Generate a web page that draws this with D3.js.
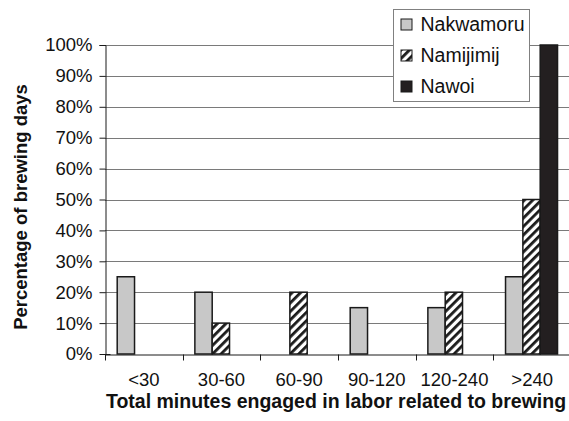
<!DOCTYPE html>
<html>
<head>
<meta charset="utf-8">
<script src="https://cdn.jsdelivr.net/npm/d3@7"></script>
<style>
  body { margin: 0; background: #fff; }
  svg { display: block; font-family: "Liberation Sans", Arial, sans-serif; }
</style>
</head>
<body>
<div id="chart"></div>
<script>
// data
const categories = ["<30", "30-60", "60-90", "90-120", "120-240", ">240"];
const seriesNames = ["Nakwamoru", "Namijimij", "Nawoi"];
const nakwamoru = [0.25, 0.20, 0, 0.15, 0.15, 0.25];
const namijimij = [0, 0.10, 0.20, 0, 0.20, 0.50];
const nawoi = [0, 0, 0, 0, 0, 1.00];
const yTicks = [0, 0.1, 0.2, 0.3, 0.4, 0.5, 0.6, 0.7, 0.8, 0.9, 1.0];

const width = 569, height = 421;
const margin = { top: 45, right: -2, bottom: 67, left: 105 };

const rows = categories.map((c, i) => ({
  cat: c,
  values: [nakwamoru[i], namijimij[i], nawoi[i]]
}));

const svg = d3.select("#chart").append("svg")
  .attr("width", width)
  .attr("height", height);

// hatch pattern for Namijimij
const defs = svg.append("defs");
const pat = defs.append("pattern")
  .attr("id", "hatch")
  .attr("patternUnits", "userSpaceOnUse")
  .attr("width", 6).attr("height", 6)
  .attr("patternTransform", "rotate(45)");
pat.append("rect").attr("width", 6).attr("height", 6).attr("fill", "#fff");
pat.append("rect").attr("width", 2.8).attr("height", 6).attr("fill", "#1a1a1a");

const fills = { Nakwamoru: "#c8c8c8", Namijimij: "url(#hatch)", Nawoi: "#231f20" };

const x = d3.scaleBand()
  .domain(categories)
  .range([margin.left, width - margin.right])
  .padding(0);

const xInner = d3.scaleBand()
  .domain(seriesNames)
  .range([12.2, 64.2]);

const y = d3.scaleLinear()
  .domain([0, 1])
  .range([height - margin.bottom, margin.top]);

// gridlines
svg.append("g")
  .selectAll("line")
  .data(yTicks.slice(1))
  .join("line")
  .attr("x1", margin.left)
  .attr("x2", width)
  .attr("y1", d => Math.round(y(d)) + 0.5)
  .attr("y2", d => Math.round(y(d)) + 0.5)
  .attr("stroke", "#7a7a7a")
  .attr("stroke-width", 1);

// bars
const groups = svg.append("g")
  .selectAll("g")
  .data(rows)
  .join("g")
  .attr("transform", d => `translate(${x(d.cat)},0)`);

groups.selectAll("rect")
  .data(d => d.values.map((v, j) => ({ name: seriesNames[j], v })).filter(e => e.v > 0))
  .join("rect")
  .attr("x", d => xInner(d.name))
  .attr("width", xInner.bandwidth())
  .attr("y", d => y(d.v))
  .attr("height", d => y(0) - y(d.v))
  .attr("fill", d => fills[d.name])
  .attr("stroke", "#1a1a1a")
  .attr("stroke-width", 1.5);

// y axis
const yAxis = svg.append("g")
  .attr("transform", `translate(${margin.left + 0.5},0)`)
  .call(d3.axisLeft(y).tickValues(yTicks).tickFormat(d3.format(".0%")).tickSize(6).tickPadding(7));
yAxis.select(".domain").attr("stroke", "#1a1a1a");
yAxis.selectAll(".tick line").attr("stroke", "#1a1a1a").attr("x2", -6);
yAxis.select(".tick line").attr("x2", 5); // crossing tick at 0%
yAxis.selectAll(".tick text")
  .attr("font-size", 18.5)
  .attr("fill", "#111")
  .style("font-family", "'Liberation Sans', Arial, sans-serif");

// x axis (labels centred, ticks on category boundaries)
const xAxis = svg.append("g")
  .attr("transform", `translate(0,${y(0) + 0.5})`)
  .call(d3.axisBottom(x).tickSize(0).tickPadding(18).tickSizeOuter(0));
xAxis.select(".domain").attr("stroke", "#1a1a1a");
xAxis.selectAll(".tick text")
  .attr("font-size", 18.5)
  .attr("fill", "#111")
  .style("font-family", "'Liberation Sans', Arial, sans-serif");

const boundaries = categories.map(c => x(c)).concat([x(categories[categories.length - 1]) + x.bandwidth()]);
xAxis.append("g")
  .selectAll("line")
  .data(boundaries)
  .join("line")
  .attr("x1", d => Math.round(d) + 0.5)
  .attr("x2", d => Math.round(d) + 0.5)
  .attr("y1", 0)
  .attr("y2", 6)
  .attr("stroke", "#1a1a1a");

// axis titles
svg.append("text")
  .attr("x", 336)
  .attr("y", 408)
  .attr("text-anchor", "middle")
  .attr("font-size", 19.5)
  .attr("font-weight", "bold")
  .attr("fill", "#111")
  .text("Total minutes engaged in labor related to brewing");

svg.append("text")
  .attr("transform", "translate(27,207) rotate(-90)")
  .attr("text-anchor", "middle")
  .attr("font-size", 18.5)
  .attr("font-weight", "bold")
  .attr("fill", "#111")
  .text("Percentage of brewing days");

// legend
const legend = svg.append("g").attr("transform", "translate(393.5,9.5)");
legend.append("rect")
  .attr("width", 136)
  .attr("height", 92)
  .attr("fill", "#fff")
  .attr("stroke", "#808080");

const items = legend.selectAll("g.item")
  .data(seriesNames)
  .join("g")
  .attr("class", "item")
  .attr("transform", (d, i) => `translate(0,${15 + i * 31})`);

items.append("rect")
  .attr("x", 7.5)
  .attr("y", -5.5)
  .attr("width", 11)
  .attr("height", 11)
  .attr("fill", d => fills[d])
  .attr("stroke", "#1a1a1a")
  .attr("stroke-width", 1);

items.append("text")
  .attr("x", 27)
  .attr("y", 0)
  .attr("dy", "0.35em")
  .attr("font-size", 19.5)
  .attr("fill", "#111")
  .text(d => d);
</script>
</body>
</html>
